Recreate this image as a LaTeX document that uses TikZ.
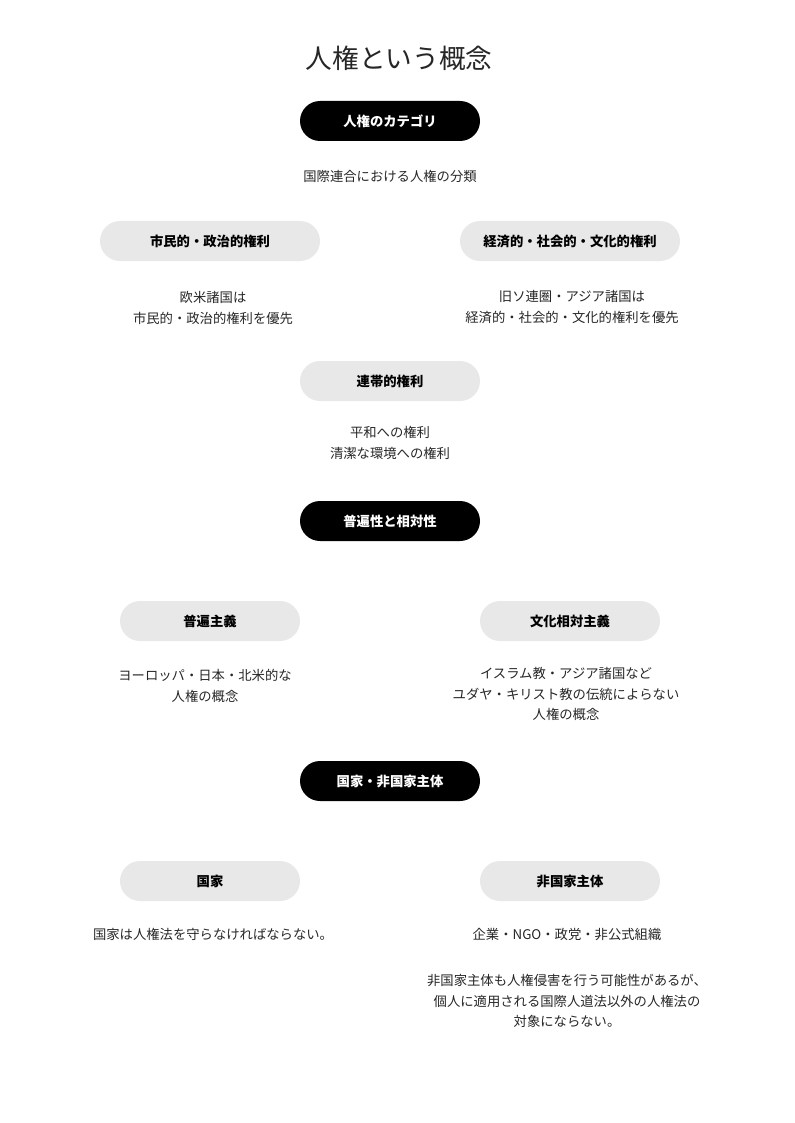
\documentclass[tikz,border=0pt]{standalone}
\usepackage{fontspec}
\setmainfont{Noto Sans CJK JP}
\usetikzlibrary{positioning}

\begin{document}
\begin{tikzpicture}[
    x=0.75pt, y=-0.75pt,
    header/.style={rectangle, fill=black, text=white, font=\bfseries\fontsize{10}{12}\selectfont, minimum width=135pt, minimum height=30pt, rounded corners=15pt, inner sep=0pt},
    category/.style={rectangle, fill=black!9, text=black, font=\bfseries\fontsize{10}{12}\selectfont, minimum width=135pt, minimum height=30pt, rounded corners=15pt, inner sep=0pt},
    widecat/.style={category, minimum width=165pt},
    note/.style={align=center, text=black!85, font=\fontsize{10}{15.2}\selectfont, inner sep=0pt}
]
\useasboundingbox (0,0) rectangle (794,1123);

% Title
\node[font=\fontsize{20}{24}\selectfont, text=black!85] (title) at (399,58) {人権という概念};

% Categories of human rights
\node[header] (categories) at (390,121) {人権のカテゴリ};
\node[note] (unclass) at (390,176) {国際連合における人権の分類};
\node[widecat] (civil) at (210,241) {市民的・政治的権利};
\node[widecat] (social) at (570,241) {経済的・社会的・文化的権利};
\node[note] (civilnote) at (213,308) {欧米諸国は\\市民的・政治的権利を優先};
\node[note] (socialnote) at (572,307) {旧ソ連圏・アジア諸国は\\経済的・社会的・文化的権利を優先};
\node[category] (solidarity) at (390,381) {連帯的権利};
\node[note] (solidnote) at (390,443) {平和への権利\\清潔な環境への権利};

% Universality and relativity
\node[header] (universality) at (390,521) {普遍性と相対性};
\node[category] (universal) at (210,621) {普遍主義};
\node[category] (relative) at (570,621) {文化相対主義};
\node[note] (universalnote) at (205,686) {ヨーロッパ・日本・北米的な\\人権の概念};
\node[note] (relativenote) at (566,694) {イスラム教・アジア諸国など\\ユダヤ・キリスト教の伝統によらない\\人権の概念};

% State and non-state actors
\node[header] (actors) at (390,781) {国家・非国家主体};
\node[category] (state) at (210,881) {国家};
\node[category] (nonstate) at (570,881) {非国家主体};
\node[note] (statenote) at (213,934) {国家は人権法を守らなければならない。};
\node[note] (examplenote) at (567,934) {企業・NGO・政党・非公式組織};
\node[note] (nonstatenote) at (567,1001) {非国家主体も人権侵害を行う可能性があるが、\\個人に適用される国際人道法以外の人権法の\\対象にならない。};

\end{tikzpicture}
\end{document}
